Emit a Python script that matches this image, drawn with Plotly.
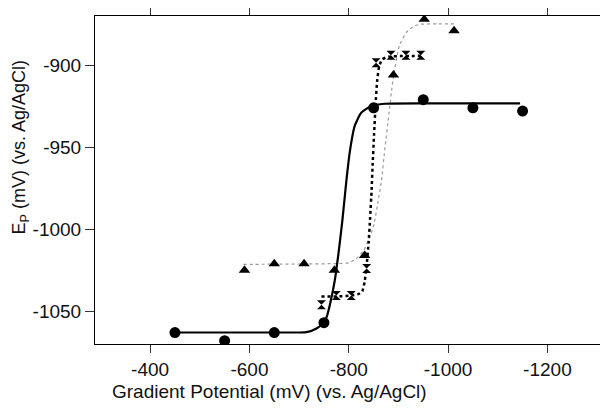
import plotly.graph_objects as go

# ---- data ----
circle_x = [-450, -550, -650, -750, -850, -950, -1050, -1150]
circle_y = [-1063, -1068, -1063, -1057, -926, -921, -926, -928]

hour_x = [-745, -775, -805, -836, -855, -885, -915, -945]
hour_y = [-1046, -1040.5, -1040.5, -1024, -898.5, -894, -894, -894]

tri_x = [-590, -650, -710, -771, -832, -890, -952, -1012]
tri_y = [-1025, -1021, -1021, -1025, -1016, -906, -872, -879]

# fitted curves
fit1_x = [-450, -700, -715, -735, -750, -756, -762, -772, -780, -787, -795,
          -802, -812, -825, -845, -872, -1000, -1145]
fit1_y = [-1063, -1063, -1062.8, -1060.5, -1057, -1053, -1046, -1031, -1013,
          -995, -971, -953, -937, -929, -925, -923.5, -923.3, -923.3]

fit2_x = [-745, -775, -805, -820, -827, -832, -836, -840, -843, -846, -848,
          -851, -854, -857, -861, -867, -880, -945]
fit2_y = [-1041, -1041, -1040.5, -1039.5, -1038, -1032, -1022, -1008, -993,
          -976, -961, -942, -924, -910, -901, -896.5, -894.8, -894.3]

fit3_x = [-588, -650, -710, -770, -800, -815, -830, -842, -850, -858, -866,
          -873, -880, -889, -902, -916, -932, -946, -980, -1012]
fit3_y = [-1021.5, -1021.3, -1021.2, -1021, -1020.5, -1018, -1013, -1005,
          -998, -985, -970, -950, -932, -909, -888, -880, -876, -875, -874.8,
          -874.8]

x_ticks = [-400, -600, -800, -1000, -1200]
y_ticks = [-900, -950, -1000, -1050]

fig = go.Figure()

fig.add_trace(go.Scatter(x=fit3_x, y=fit3_y, mode="lines",
                         line=dict(color="#9a9a9a", width=1.2, dash="dot", shape="spline", smoothing=0.5),
                         hoverinfo="skip", showlegend=False))
fig.add_trace(go.Scatter(x=fit2_x, y=fit2_y, mode="lines",
                         line=dict(color="black", width=2.5, dash="dot", shape="spline", smoothing=0.5),
                         hoverinfo="skip", showlegend=False))
fig.add_trace(go.Scatter(x=fit1_x, y=fit1_y, mode="lines",
                         line=dict(color="black", width=2.2, shape="spline", smoothing=0.5),
                         hoverinfo="skip", showlegend=False))

fig.add_trace(go.Scatter(x=circle_x, y=circle_y, mode="markers",
                         marker=dict(symbol="circle", size=11, color="black"),
                         showlegend=False))
fig.add_trace(go.Scatter(x=hour_x, y=hour_y, mode="markers",
                         marker=dict(symbol="hourglass", size=9, color="black"),
                         showlegend=False))
fig.add_trace(go.Scatter(x=tri_x, y=tri_y, mode="markers",
                         marker=dict(symbol="triangle-up", size=10, color="black"),
                         showlegend=False))

font_family = "Liberation Sans, Arial, sans-serif"

# page body has an 8px default margin; figure sized so the plot lands where the reference has it
fig.update_layout(
    width=600, height=400,
    margin=dict(l=87, r=1, t=8, b=64),
    paper_bgcolor="white", plot_bgcolor="white",
    font=dict(family=font_family, size=19, color="#111"),
    xaxis=dict(range=[-289, -1320], tickvals=x_ticks,
               ticktext=[str(v) for v in x_ticks],
               showgrid=False, zeroline=False, automargin=False,
               showline=True, linecolor="black", linewidth=1, mirror="ticks",
               ticks="outside", ticklen=8, tickcolor="#333", tickwidth=1,
               tickfont=dict(size=19)),
    yaxis=dict(range=[-1070, -870], tickvals=y_ticks,
               ticktext=[str(v) for v in y_ticks],
               showgrid=False, zeroline=False, automargin=False,
               showline=True, linecolor="black", linewidth=1, mirror="ticks",
               ticks="outside", ticklen=9, tickcolor="#333", tickwidth=1,
               tickfont=dict(size=19)),
    annotations=[
        dict(text="Gradient Potential (mV) (vs. Ag/AgCl)", xref="paper", yref="paper",
             x=0.34, y=-0.146, xanchor="center", yanchor="middle", showarrow=False,
             font=dict(size=19)),
        dict(text="E<sub>P</sub> (mV) (vs. Ag/AgCl)", xref="paper", yref="paper",
             x=-0.146, y=0.60, xanchor="center", yanchor="middle", showarrow=False,
             textangle=-90, font=dict(size=18)),
    ],
)

fig.write_html("out.html")
